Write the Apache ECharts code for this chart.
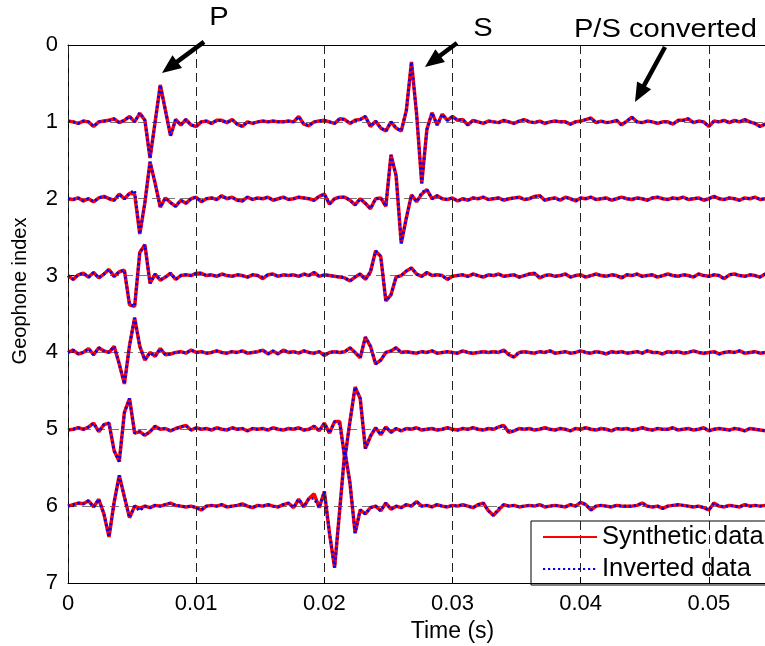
<!DOCTYPE html>
<html><head><meta charset="utf-8">
<script src="https://cdn.jsdelivr.net/npm/echarts@6/dist/echarts.min.js"></script>
<style>html,body{margin:0;padding:0;background:#fff;overflow:hidden;width:765px;height:646px;}#c{width:840px;height:646px;}</style>
</head><body><div id="c"></div>
<script>
// ---- data (amplitudes, upward deflection positive, in geophone-index units) ----
const timeStep = 0.0004;            // sampling interval of the traces (s)
const geophones = [1, 2, 3, 4, 5, 6];
const xTickValues = [0, 0.01, 0.02, 0.03, 0.04, 0.05];
const xTickLabels = ['0', '0.01', '0.02', '0.03', '0.04', '0.05'];
const yTickLabels = ['0', '1', '2', '3', '4', '5', '6', '7'];
const seriesNames = ['Synthetic data', 'Inverted data'];

const synthetic1 = [
  0.01, 0.0, -0.02, 0.01, 0.0, -0.06, 0.0, 0.01, 0.02, 0.04,
  -0.01, 0.02, 0.07, 0.0, 0.11, 0.02, -0.47, 0.0, 0.48, 0.15,
  -0.18, 0.03, -0.04, 0.03, -0.04, -0.06, 0.0, 0.01, -0.02, 0.02,
  0.02, -0.01, 0.03, -0.03, -0.06, 0.0, -0.02, 0.0, 0.01, 0.0,
  0.01, 0.0, 0.0, 0.01, 0.0, 0.07, -0.03, -0.05, 0.0, 0.01,
  0.02, 0.0, -0.02, 0.04, 0.03, -0.02, 0.02, 0.03, 0.07, -0.06,
  0.01, -0.08, -0.12, 0.0, -0.08, -0.12, 0.15, 0.78, 0.1, -0.8,
  -0.1, 0.12, -0.04, 0.1, 0.02, 0.07, 0.02, 0.03, -0.04, 0.02,
  0.0, -0.02, 0.01, 0.0, -0.01, 0.02, 0.0, -0.02, 0.01, 0.03,
  0.0, -0.01, 0.01, -0.02, 0.0, 0.01, 0.0, 0.0, -0.03, 0.0,
  0.01, 0.03, 0.05, -0.01, 0.01, -0.01, 0.0, 0.02, -0.04, 0.01,
  0.06, 0.0, -0.01, 0.01, 0.0, -0.02, 0.0, 0.0, -0.03, 0.02,
  0.02, 0.04, -0.01, 0.01, 0.0, -0.06, 0.01, 0.0, 0.02, -0.01,
  0.02, 0.0, 0.03, 0.0, -0.02, -0.06, -0.03, 0.0
];
const synthetic2 = [
  0.0, -0.01, 0.01, -0.03, 0.0, -0.04, 0.01, 0.03, 0.0, -0.02,
  0.06, 0.0, 0.07, 0.06, -0.46, -0.05, 0.48, 0.2, -0.11, 0.01,
  -0.05, -0.1, -0.02, -0.06, 0.0, 0.02, -0.04, 0.0, 0.01, -0.01,
  0.04, 0.0, 0.02, -0.02, -0.03, 0.02, -0.01, 0.01, 0.0, 0.02,
  -0.02, 0.0, 0.02, -0.01, 0.0, 0.02, 0.01, 0.0, -0.02, 0.03,
  0.06, -0.07, 0.0, 0.02, 0.02, -0.02, -0.08, 0.0, -0.06, -0.13,
  0.0, 0.01, -0.1, 0.57, 0.3, -0.58, -0.25, 0.05, -0.04, 0.06,
  0.12, 0.0, 0.04, 0.0, -0.01, 0.01, -0.03, 0.0, -0.02, 0.01,
  0.0, 0.02, -0.01, 0.0, 0.01, -0.02, 0.0, 0.01, 0.02, -0.01,
  0.0, 0.03, 0.04, -0.02, 0.0, 0.01, -0.02, 0.02, 0.0, -0.03,
  0.01, 0.0, 0.02, -0.01, 0.0, 0.01, -0.02, 0.0, 0.02, 0.0,
  -0.01, 0.01, 0.0, -0.02, 0.01, 0.02, 0.0, -0.01, 0.01, 0.0,
  0.02, -0.01, 0.0, 0.01, -0.02, 0.0, 0.03, 0.0, -0.01, 0.01,
  0.0, -0.02, 0.01, 0.0, 0.02, -0.01, 0.0, 0.01
];
const synthetic3 = [
  0.0, -0.05, 0.01, 0.03, -0.02, 0.04, -0.03, 0.02, 0.08, -0.01,
  0.05, 0.07, -0.38, -0.4, 0.3, 0.4, -0.1, 0.02, -0.06, -0.02,
  0.03, -0.05, 0.0, 0.01, 0.0, 0.03, 0.03, 0.0, 0.01, -0.01,
  0.02, 0.0, -0.01, 0.01, 0.0, -0.02, 0.01, 0.0, -0.04, 0.01,
  0.02, -0.01, 0.01, 0.0, 0.01, -0.01, 0.02, 0.0, 0.04, -0.01,
  0.01, 0.0, -0.01, -0.02, -0.03, -0.07, -0.02, 0.02, -0.05, 0.05,
  0.32, 0.25, -0.33, -0.25, -0.02, 0.0, 0.06, 0.1, 0.02, -0.01,
  0.04, 0.0, 0.01, 0.0, -0.05, -0.01, 0.0, 0.01, -0.01, 0.02,
  0.0, -0.02, 0.01, 0.0, 0.02, -0.01, 0.0, 0.01, -0.02, 0.0,
  0.02, 0.03, -0.03, 0.0, 0.01, -0.01, 0.0, 0.02, -0.02, 0.0,
  0.01, -0.02, 0.0, 0.02, 0.0, -0.01, 0.01, 0.0, -0.03, 0.01,
  0.0, 0.02, -0.01, 0.0, 0.01, -0.02, 0.0, 0.02, 0.0, -0.01,
  0.01, 0.0, -0.02, 0.02, 0.0, -0.01, 0.01, 0.0, -0.04, 0.01,
  0.02, 0.0, -0.01, 0.01, 0.0, -0.02, 0.02, 0.0
];
const synthetic4 = [
  0.0, 0.03, -0.02, 0.0, 0.05, -0.03, 0.06, 0.02, 0.0, 0.08,
  -0.15, -0.41, 0.09, 0.45, 0.08, -0.1, 0.0, -0.05, 0.05, -0.03,
  -0.02, 0.0, 0.01, -0.01, 0.03, 0.0, 0.01, -0.01, 0.0, 0.02,
  0.0, -0.01, 0.01, 0.0, 0.02, -0.01, 0.0, 0.01, 0.03, -0.02,
  0.02, -0.02, 0.03, 0.0, 0.01, -0.01, 0.02, 0.0, -0.01, 0.01,
  -0.04, 0.0, 0.01, 0.0, 0.01, 0.06, 0.0, -0.07, 0.2, 0.08,
  -0.15, -0.1, 0.0, 0.02, 0.06, 0.0, 0.01, 0.0, -0.01, 0.01,
  0.0, 0.02, -0.01, 0.0, 0.01, 0.0, -0.01, 0.02, 0.0, -0.01,
  0.0, 0.01, 0.0, 0.01, 0.0, 0.03, -0.03, -0.06, 0.0, 0.01,
  0.0, -0.01, 0.01, 0.0, 0.02, -0.01, 0.0, 0.01, -0.01, 0.0,
  0.02, 0.0, -0.01, 0.01, 0.0, -0.02, 0.01, 0.0, 0.01, -0.01,
  0.0, 0.01, -0.01, 0.02, 0.0, 0.0, -0.02, 0.01, 0.0, 0.01,
  -0.01, 0.0, 0.02, 0.0, -0.01, 0.0, 0.01, -0.02, 0.0, 0.01,
  0.0, 0.02, -0.01, 0.0, 0.01, -0.01, 0.0, 0.01
];
const synthetic5 = [
  -0.01, 0.0, 0.02, 0.0, 0.03, 0.08, -0.03, 0.06, 0.08, -0.28,
  -0.42, 0.22, 0.4, -0.05, -0.03, -0.08, -0.03, 0.04, 0.0, 0.01,
  -0.02, 0.01, 0.03, 0.05, -0.01, 0.02, 0.0, 0.01, -0.01, 0.02,
  0.0, -0.01, 0.02, 0.0, 0.01, -0.02, 0.01, 0.0, 0.01, -0.01,
  0.02, 0.0, -0.01, 0.01, 0.0, 0.02, -0.01, 0.0, 0.04, -0.02,
  0.08, -0.05, 0.1, 0.1, -0.38, 0.1, 0.55, 0.4, -0.25, -0.09,
  0.02, -0.07, 0.03, -0.04, 0.01, -0.02, 0.01, 0.0, 0.02, -0.01,
  0.0, 0.01, -0.01, 0.0, 0.02, 0.0, -0.01, 0.01, 0.0, 0.02,
  0.0, -0.01, 0.01, 0.0, 0.03, 0.05, -0.04, -0.02, 0.01, 0.0,
  0.01, -0.01, 0.0, 0.02, 0.0, -0.01, 0.01, 0.0, -0.02, 0.01,
  0.0, 0.02, 0.0, -0.01, 0.01, 0.0, -0.02, 0.01, 0.0, 0.01,
  -0.01, 0.0, 0.02, 0.0, -0.01, 0.01, 0.0, 0.0, 0.02, -0.01,
  0.0, 0.01, -0.01, 0.0, 0.02, -0.02, 0.0, 0.01, 0.0, -0.01,
  0.01, 0.0, -0.02, 0.01, 0.0, -0.01, -0.02, 0.0
];
const synthetic6 = [
  0.0, 0.02, 0.04, 0.03, 0.07, -0.01, 0.09, -0.1, -0.4, 0.05,
  0.4, 0.12, -0.15, 0.0, -0.03, 0.0, -0.02, 0.01, 0.0, 0.02,
  0.04, 0.01, 0.0, -0.01, 0.0, -0.02, -0.05, 0.0, 0.01, 0.0,
  0.02, -0.01, 0.0, 0.01, 0.03, 0.0, -0.02, 0.01, 0.0, 0.02,
  0.0, -0.01, 0.02, 0.04, -0.02, 0.09, -0.01, 0.1, 0.16, -0.02,
  0.19, -0.35, -0.8, -0.05, 0.72, 0.3, -0.35, -0.05, -0.1, -0.02,
  0.0, -0.06, 0.04, -0.04, 0.0, -0.02, 0.02, 0.0, 0.06, 0.0,
  0.01, -0.01, 0.02, 0.0, -0.01, 0.01, 0.0, 0.02, 0.0, -0.02,
  0.02, 0.04, -0.06, -0.12, -0.05, 0.02, 0.0, 0.01, -0.01, 0.0,
  0.01, 0.0, 0.02, -0.01, 0.0, 0.01, 0.0, -0.01, 0.02, 0.0,
  0.05, 0.02, -0.05, 0.0, 0.01, 0.0, -0.01, 0.01, 0.0, 0.0,
  0.0, 0.01, 0.04, 0.0, -0.01, 0.0, -0.03, 0.0, 0.01, 0.02,
  0.01, 0.0, -0.01, 0.0, -0.02, -0.05, 0.04, 0.0, -0.01, 0.01,
  0.0, -0.01, 0.02, 0.0, 0.01, 0.0, 0.01, 0.0
];
// Inverted data coincides with the synthetic data except at these samples: [geophone, sample, amplitude]
const invertedDifferences = [
  [1, 14, 0.12], [2, 13, 0.11], [2, 69, 0.08],
  [3, 38, -0.02], [5, 53, 0.07], [6, 14, -0.06], [6, 48, 0.1], [6, 84, -0.03]
];
// annotations in data units: label position, arrow tail, arrow head
const annotationTexts = ['P', 'S', 'P/S converted'];
const annotationLabelAt = [[0.01178, -0.35], [0.03238, -0.21], [0.04661, -0.195]];
const annotationTail = [[0.01061, -0.04], [0.03035, -0.026], [0.04658, 0.026]];
const annotationHead = [[0.00733, 0.364], [0.02785, 0.286], [0.04424, 0.742]];

// ---- chart ----
const syntheticTraces = [synthetic1, synthetic2, synthetic3, synthetic4, synthetic5, synthetic6];
const invertedTraces = syntheticTraces.map(a => a.slice());
invertedDifferences.forEach(([g, i, v]) => { invertedTraces[g - 1][i] = v; });

const FONT = 'Liberation Sans, Arial, sans-serif';
const series = [];
geophones.forEach((g, k) => {
  series.push({
    name: seriesNames[0], type: 'line', symbol: 'none', silent: true, z: 2,
    data: syntheticTraces[k].map((a, i) => [i * timeStep, g - a]),
    lineStyle: { color: '#ff0000', width: 3.5 }, itemStyle: { color: '#ff0000' }
  });
});
geophones.forEach((g, k) => {
  series.push({
    name: seriesNames[1], type: 'line', symbol: 'none', silent: true, z: 3,
    data: invertedTraces[k].map((a, i) => [i * timeStep, g - a]),
    lineStyle: { color: '#0000ff', width: 2.8, type: [2.2, 2.8] }, itemStyle: { color: '#0000ff' }
  });
});

const chart = echarts.init(document.getElementById('c'), null, { renderer: 'canvas', width: 840, height: 646 });
const labelFor = v => {
  const idx = xTickValues.findIndex(t => Math.abs(t - v) < 1e-9);
  return idx >= 0 ? xTickLabels[idx] : '';
};
chart.setOption({
  animation: false,
  backgroundColor: '#fff',
  grid: { left: 68, top: 45, right: 3, bottom: 63, containLabel: false, outerBoundsMode: 'none' },
  legend: {
    orient: 'vertical', left: 531, top: 521, data: seriesNames, selectedMode: false,
    itemWidth: 54, itemHeight: 14, itemGap: 6, padding: [3, 60, 3, 11],
    itemStyle: { opacity: 0, borderWidth: 0 },
    backgroundColor: '#fff', borderColor: '#000', borderWidth: 1, borderRadius: 0,
    textStyle: { fontFamily: FONT, fontSize: 25.5, color: '#000', lineHeight: 25 }
  },
  xAxis: [{
    type: 'value', min: 0, max: 0.06, interval: 0.01, z: 4,
    axisLine: { show: true, onZero: false, lineStyle: { color: '#000', width: 1 } },
    axisTick: { show: true, inside: true, length: 6, lineStyle: { color: '#000' } },
    axisLabel: { margin: 10, color: '#000', fontFamily: FONT, fontSize: 22, formatter: labelFor },
    splitLine: { show: true, lineStyle: { color: '#222', width: 1, type: [9, 5] } },
    name: 'Time (s)', nameLocation: 'middle', nameGap: 34,
    nameTextStyle: { fontFamily: FONT, fontSize: 23, color: '#000' }
  }, {
    type: 'value', position: 'top', min: 0, max: 0.06, z: 4,
    axisLine: { show: true, onZero: false, lineStyle: { color: '#000', width: 1 } },
    axisTick: { show: false }, axisLabel: { show: false }, splitLine: { show: false }
  }],
  yAxis: {
    type: 'value', inverse: true, min: 0, max: 7, interval: 1, z: 1,
    axisLine: { show: true, onZero: false, lineStyle: { color: '#000', width: 1 } },
    axisTick: { show: true, inside: true, length: 6, lineStyle: { color: '#000' } },
    axisLabel: { margin: 10, color: '#000', fontFamily: FONT, fontSize: 22, formatter: v => yTickLabels[v] },
    splitLine: { show: true, lineStyle: { color: '#777', width: 1, type: [9, 5] } },
    name: 'Geophone index', nameLocation: 'middle', nameGap: 38, nameRotate: 90,
    nameTextStyle: { fontFamily: FONT, fontSize: 20, color: '#000', padding: [0, 0, 0, 46] }
  },
  series: series
});

// annotations (arrows + labels), placed through the axes
const graphics = [];
annotationTexts.forEach((txt, k) => {
  const L = chart.convertToPixel({ gridIndex: 0 }, annotationLabelAt[k]);
  const T = chart.convertToPixel({ gridIndex: 0 }, annotationTail[k]);
  const H = chart.convertToPixel({ gridIndex: 0 }, annotationHead[k]);
  const dx = H[0] - T[0], dy = H[1] - T[1], len = Math.hypot(dx, dy);
  const ux = dx / len, uy = dy / len, nx = -uy, ny = ux;
  const hl = 19, hw = 8;
  const B = [H[0] - ux * hl, H[1] - uy * hl];
  graphics.push({
    type: 'line', z: 100, silent: true,
    shape: { x1: T[0], y1: T[1], x2: B[0] + ux * 2, y2: B[1] + uy * 2 },
    style: { stroke: '#000', lineWidth: 4.5 }
  });
  graphics.push({
    type: 'polygon', z: 100, silent: true,
    shape: { points: [H, [B[0] + nx * hw, B[1] + ny * hw], [B[0] - nx * hw, B[1] - ny * hw]] },
    style: { fill: '#000' }
  });
  graphics.push({
    type: 'text', z: 100, silent: true, x: L[0], y: L[1], scaleX: 1.12,
    style: { text: txt, fill: '#000', font: '26px ' + FONT, fontSize: 26, fontFamily: FONT,
      align: 'center', verticalAlign: 'middle', textAlign: 'center', textVerticalAlign: 'middle' }
  });
});
chart.setOption({ graphic: graphics });
</script>
</body></html>
